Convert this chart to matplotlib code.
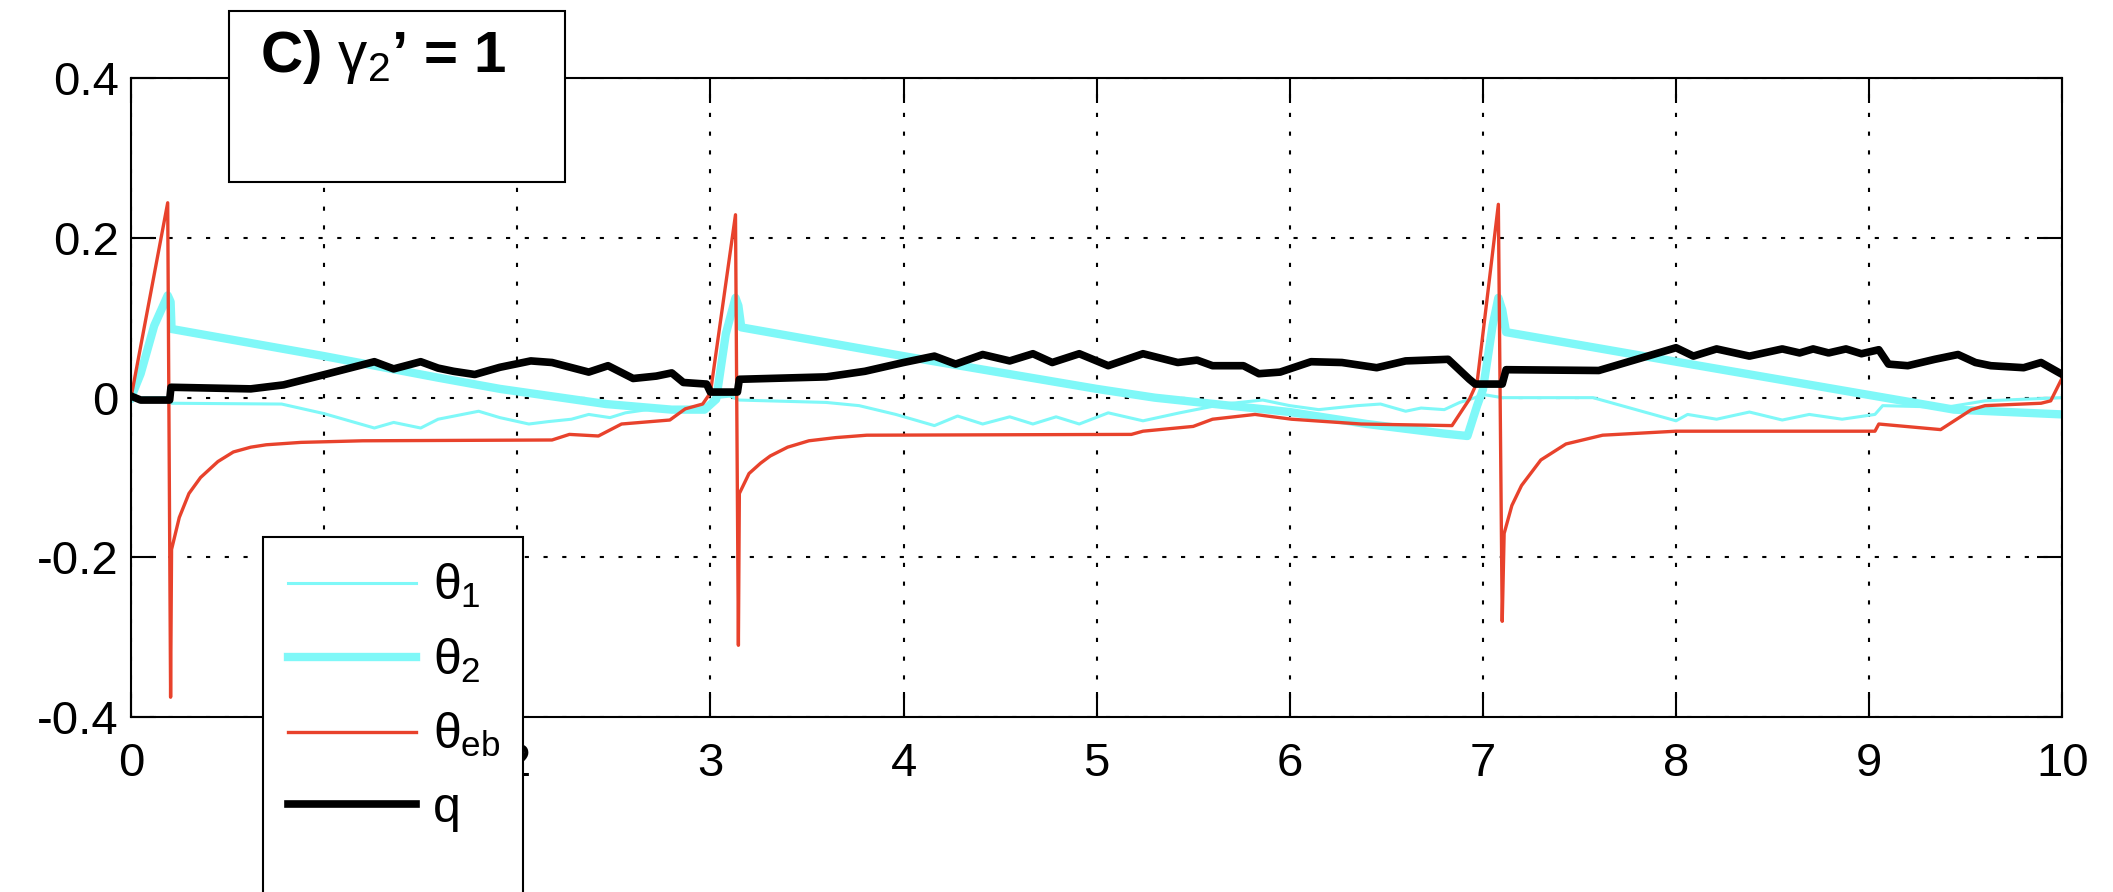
import matplotlib
matplotlib.use("Agg")
import matplotlib.pyplot as plt
from matplotlib.patches import Rectangle


# ------------------------------------------------------------
# data (time axis 0..10)
# ------------------------------------------------------------
t_theta1 = [0, 0.20, 0.21, 0.78, 1.0, 1.26, 1.36, 1.5, 1.59, 1.8, 1.91, 2.06, 2.16, 2.28,
            2.37, 2.48, 2.56, 2.7, 2.97, 3.03, 3.1, 3.15, 3.6, 3.77, 3.96, 4.16, 4.28,
            4.41, 4.55, 4.67, 4.79, 4.91, 5.06, 5.24, 5.43, 5.66, 5.86, 6.0, 6.15,
            6.35, 6.47, 6.6, 6.68, 6.8, 6.88, 6.96, 7.0, 7.1, 7.57, 8.0, 8.06, 8.21,
            8.38, 8.55, 8.69, 8.86, 9.03, 9.07, 9.4, 9.6, 10.0]
theta1 = [0, 0.0, -0.007, -0.008, -0.02, -0.038, -0.031, -0.038, -0.027, -0.017, -0.025,
          -0.033, -0.030, -0.027, -0.021, -0.025, -0.019, -0.014, -0.012, 0.0, 0.002,
          -0.003, -0.006, -0.010, -0.021, -0.035, -0.023, -0.033, -0.024, -0.033, -0.024,
          -0.033, -0.019, -0.029, -0.019, -0.008, -0.003, -0.010, -0.015, -0.010, -0.008,
          -0.017, -0.013, -0.015, -0.006, 0.0, 0.004, 0.0, 0.0, -0.029, -0.021, -0.027,
          -0.018, -0.028, -0.021, -0.027, -0.021, -0.010, -0.012, -0.004, 0.0]

t_theta2 = [0, 0.05, 0.12, 0.19, 0.205, 0.21, 1.0, 1.59, 1.91, 2.46, 2.8, 2.97, 3.03,
            3.08, 3.13, 3.145, 3.16, 4.0, 5.0, 5.3, 6.0, 6.4, 6.8, 6.92, 6.97, 7.0,
            7.05, 7.08, 7.10, 7.12, 8.0, 9.44, 10.0]
theta2 = [0, 0.03, 0.09, 0.128, 0.12, 0.086, 0.052, 0.025, 0.011, -0.008, -0.015, -0.015,
          -0.002, 0.08, 0.125, 0.115, 0.088, 0.052, 0.011, 0.0, -0.018, -0.033, -0.045,
          -0.048, -0.01, 0.01, 0.09, 0.125, 0.11, 0.082, 0.045, -0.015, -0.021]

t_theta_eb = [0, 0.19, 0.205, 0.21, 0.25, 0.3, 0.36, 0.45, 0.53, 0.62, 0.7, 0.88, 1.2,
              2.18, 2.27, 2.42, 2.54, 2.79, 2.87, 2.96, 3.0, 3.13, 3.145, 3.15, 3.2,
              3.26, 3.31, 3.4, 3.51, 3.65, 3.81, 5.18, 5.24, 5.5, 5.6, 5.82, 6.01, 6.37,
              6.84, 6.93, 6.97, 7.08, 7.10, 7.11, 7.15, 7.2, 7.3, 7.43, 7.62, 8.0, 9.03,
              9.05, 9.37, 9.53, 9.6, 9.89, 9.94, 10.0]
theta_eb = [0, 0.244, -0.375, -0.19, -0.15, -0.12, -0.10, -0.08, -0.068, -0.062, -0.059,
            -0.056, -0.054, -0.053, -0.046, -0.048, -0.033, -0.028, -0.014, -0.008, 0.006,
            0.229, -0.31, -0.12, -0.095, -0.082, -0.073, -0.062, -0.054, -0.050, -0.047,
            -0.046, -0.042, -0.036, -0.027, -0.021, -0.027, -0.033, -0.035, -0.002, 0.019,
            0.242, -0.28, -0.17, -0.135, -0.11, -0.078, -0.058, -0.047, -0.042, -0.042,
            -0.033, -0.040, -0.015, -0.010, -0.007, -0.004, 0.025]

t_q = [0, 0.05, 0.2, 0.207, 0.62, 0.79, 1.02, 1.26, 1.36, 1.5, 1.59, 1.67, 1.78, 1.91,
       2.07, 2.18, 2.37, 2.47, 2.6, 2.72, 2.8, 2.86, 2.98, 3.0, 3.14, 3.15, 3.6, 3.8,
       4.0, 4.16, 4.27, 4.41, 4.55, 4.67, 4.77, 4.91, 5.06, 5.24, 5.42, 5.52, 5.6, 5.76,
       5.84, 5.95, 6.11, 6.27, 6.45, 6.6, 6.82, 6.93, 6.96, 7.10, 7.12, 7.6, 8.0, 8.09,
       8.21, 8.38, 8.55, 8.64, 8.71, 8.79, 8.88, 8.96, 9.05, 9.10, 9.2, 9.34, 9.46, 9.55,
       9.63, 9.8, 9.89, 10.0]
q = [0.002, -0.003, -0.003, 0.013, 0.011, 0.016, 0.030, 0.045, 0.036, 0.045, 0.037, 0.033,
     0.029, 0.038, 0.046, 0.044, 0.032, 0.040, 0.024, 0.027, 0.031, 0.019, 0.017, 0.007,
     0.007, 0.023, 0.026, 0.033, 0.044, 0.052, 0.042, 0.054, 0.046, 0.055, 0.044, 0.055,
     0.040, 0.055, 0.044, 0.047, 0.040, 0.040, 0.030, 0.032, 0.045, 0.044, 0.0375, 0.046,
     0.048, 0.023, 0.017, 0.017, 0.035, 0.034, 0.0625, 0.052, 0.061, 0.052, 0.061, 0.056,
     0.061, 0.056, 0.061, 0.055, 0.060, 0.042, 0.040, 0.048, 0.054, 0.044, 0.040, 0.0375,
     0.044, 0.029]

X_TICKS = [0, 1, 2, 3, 4, 5, 6, 7, 8, 9, 10]
Y_TICKS = [-0.4, -0.2, 0, 0.2, 0.4]
Y_TICK_LABELS = ["-0.4", "-0.2", "0", "0.2", "0.4"]
LEGEND_LABELS = [r"$\theta_1$", r"$\theta_2$", r"$\theta_{eb}$", "q"]
PANEL_TITLE = "C) $\\gamma_2$\u2019 = 1"

# style
CYAN = "#7ff8f8"
RED = "#e8422c"
TICK_FONTSIZE = 34
LEGEND_FONTSIZE = 36
TITLE_FONTSIZE = 42
GRID_STYLE = (0, (2, 7))


def main():
    plt.rcParams["font.family"] = "Liberation Sans"
    plt.rcParams["mathtext.fontset"] = "custom"
    plt.rcParams["mathtext.rm"] = "Liberation Sans"
    plt.rcParams["mathtext.it"] = "Liberation Sans"
    plt.rcParams["mathtext.bf"] = "Liberation Sans:bold"
    plt.rcParams["axes.unicode_minus"] = False

    fig = plt.figure(figsize=(21.13, 8.92), dpi=100)
    ax = fig.add_axes([0.062, 0.196, 0.914, 0.7164])

    l1, = ax.plot(t_theta1, theta1, color=CYAN, lw=2.2)
    l2, = ax.plot(t_theta2, theta2, color=CYAN, lw=6)
    l3, = ax.plot(t_theta_eb, theta_eb, color=RED, lw=2.4)
    l4, = ax.plot(t_q, q, color="black", lw=5.5)

    ax.set_xlim(0, 10)
    ax.set_ylim(-0.4, 0.4)
    ax.set_xticks(X_TICKS)
    ax.set_yticks(Y_TICKS)
    ax.set_yticklabels(Y_TICK_LABELS)
    ax.tick_params(direction="in", length=18, width=1.5, top=True, right=True,
                   labelsize=TICK_FONTSIZE)
    ax.tick_params(axis="x", pad=18)
    ax.tick_params(axis="y", pad=9)
    for spine in ax.spines.values():
        spine.set_linewidth(1.5)
    ax.grid(True, color="black", linestyle=GRID_STYLE, linewidth=1.5)

    # panel label box sitting over the top spine
    ax.add_patch(Rectangle((0.0507, 0.837), 0.174, 0.268, transform=ax.transAxes,
                           facecolor="white", edgecolor="black", lw=1.5,
                           clip_on=False, zorder=10))
    ax.text(0.0668, 1.01, PANEL_TITLE, transform=ax.transAxes, fontsize=TITLE_FONTSIZE,
            fontweight="bold", ha="left", va="baseline", zorder=11)

    # legend box runs off the bottom of the figure, as in the original
    ax.add_patch(Rectangle((0.0684, -0.6), 0.1346, 0.8817, transform=ax.transAxes,
                           facecolor="white", edgecolor="black", lw=1.5,
                           clip_on=False, zorder=11))
    leg = ax.legend([l1, l2, l3, l4], LEGEND_LABELS, loc="upper left",
                    bbox_to_anchor=(263 / 2113, 1 - 537 / 892),
                    bbox_transform=fig.transFigure, borderaxespad=0,
                    fontsize=LEGEND_FONTSIZE, frameon=False, borderpad=0.5,
                    handlelength=2.55, handletextpad=0.35, labelspacing=0.53)
    leg.set_zorder(12)

    fig.savefig("out.png", dpi=100, facecolor="white")
    plt.close(fig)


if __name__ == "__main__":
    main()
